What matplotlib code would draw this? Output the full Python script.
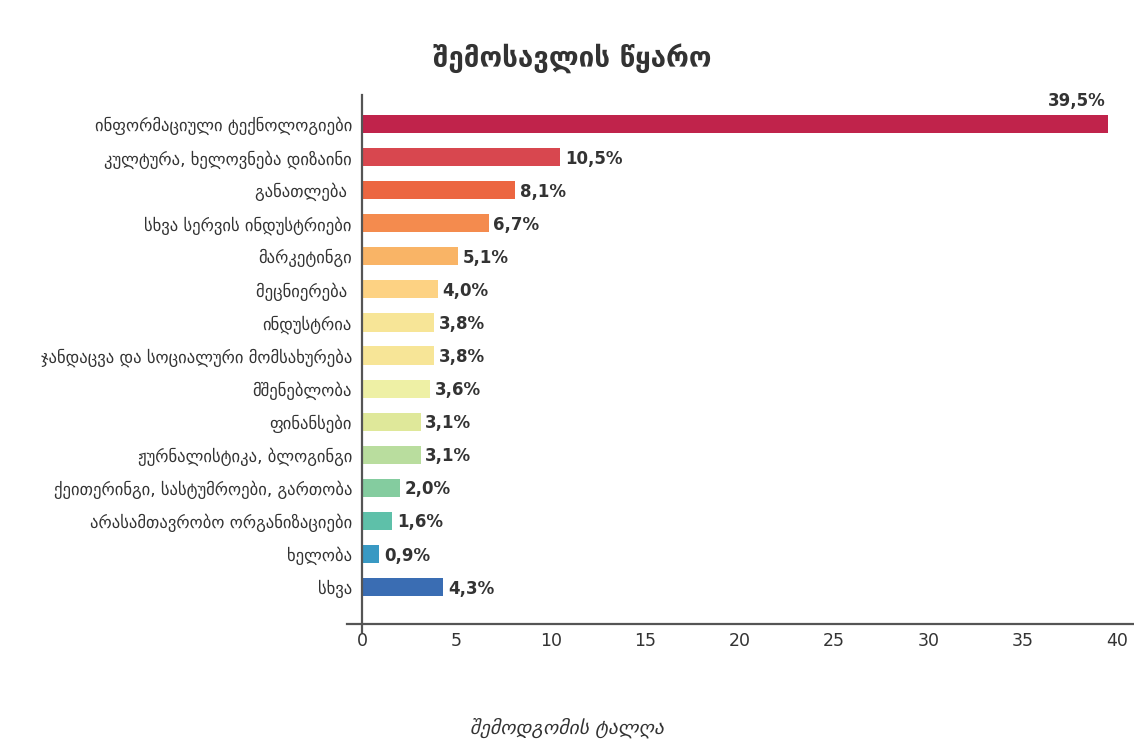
import numpy as np
import matplotlib
matplotlib.use('Agg')
import matplotlib.pyplot as plt

plt.rcParams['font.family'] = ['DejaVu Sans']

# data
categories = ['ინფორმაციული ტექნოლოგიები',
              'კულტურა, ხელოვნება დიზაინი',
              'განათლება ',
              'სხვა სერვის ინდუსტრიები',
              'მარკეტინგი',
              'მეცნიერება ',
              'ინდუსტრია',
              'ჯანდაცვა და სოციალური მომსახურება',
              'მშენებლობა',
              'ფინანსები',
              'ჟურნალისტიკა, ბლოგინგი',
              'ქეითერინგი, სასტუმროები, გართობა',
              'არასამთავრობო ორგანიზაციები',
              'ხელობა',
              'სხვა']
values = [39.5, 10.5, 8.1, 6.7, 5.1, 4.0, 3.8, 3.8, 3.6, 3.1, 3.1, 2.0, 1.6, 0.9, 4.3]
colors = ['#c0234b', '#d8474f', '#ec6641', '#f48b4e', '#f9b466',
          '#fdd283', '#f7e597', '#f7e597', '#eef0a5', '#dfe89a',
          '#b9dd9e', '#84cc9f', '#5ec0a9', '#3999c3', '#3a6db3']
xticks = [0, 5, 10, 15, 20, 25, 30, 35, 40]

title = 'შემოსავლის წყარო'
xlabel = 'შემოდგომის ტალღა'

txt = '#333333'
axc = '#555555'

fig = plt.figure(figsize=(11.34, 7.42), dpi=100)
ax = fig.add_axes([347 / 1134, 1 - 624 / 742, 787 / 1134, (624 - 95) / 742])

pos = np.arange(len(values))
ax.barh(pos, values, height=0.55, color=colors, zorder=2)

ax.set_xlim(-0.8, 40.9)
ax.set_ylim(15.12, -0.88)

for s in ['top', 'right', 'left']:
    ax.spines[s].set_visible(False)
ax.spines['bottom'].set_color(axc)
ax.spines['bottom'].set_linewidth(1.6)
ax.plot([0, 0], [-0.88, 15.37], color=axc, lw=1.6, clip_on=False, zorder=3)

ax.set_yticks(pos)
ax.set_yticklabels(categories, fontsize=12, color=txt)
ax.tick_params(axis='y', length=0, pad=-3.6)
ax.set_xticks(xticks)
ax.set_xticklabels([str(t) for t in xticks], fontsize=12.5, color=txt)
ax.tick_params(axis='x', length=0, pad=6)

for i, v in enumerate(values):
    lbl = '{:.1f}%'.format(v).replace('.', ',')
    if i == 0:
        ax.text(v - 0.1, i - 0.7, lbl, ha='right', va='center',
                fontsize=12, fontweight='bold', color=txt)
    else:
        ax.text(v + 0.25, i + 0.05, lbl, ha='left', va='center',
                fontsize=12, fontweight='bold', color=txt)

fig.text(572 / 1134, 1 - 58 / 742, title, ha='center', va='center',
         fontsize=20, fontweight='bold', color=txt)
fig.text(567 / 1134, 1 - 728 / 742, xlabel, ha='center', va='center',
         fontsize=14, fontstyle='italic', color=txt)

fig.savefig('out.png', dpi=100, facecolor='white')
